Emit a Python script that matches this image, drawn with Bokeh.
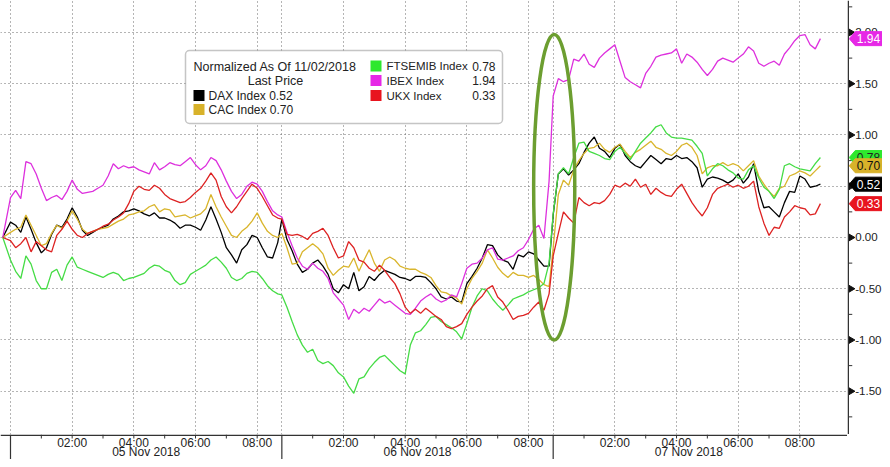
from math import pi
from bokeh.plotting import figure
from bokeh.layouts import row, column
from bokeh.models import (Range1d, FixedTicker, Label, BoxAnnotation, Grid, Span)
from bokeh.core.properties import value
from bokeh.embed import file_html
from bokeh.resources import INLINE

# ---------------- axis definition (trading-session minutes) ----------------
SESSION = 528          # one trading day on the axis, in minutes
STEP = 10              # sampling step of the series, minutes
START = -15            # normalisation point (previous close)
day_labels = ["05 Nov 2018", "06 Nov 2018", "07 Nov 2018"]
hour_marks = [2, 4, 6, 8]
hour_labels = ["02:00", "04:00", "06:00", "08:00"]
odd_hours = [1, 3, 5, 7]
y_major = [-1.5, -1.0, -0.5, 0.0, 0.5, 1.0, 1.5, 2.0]
y_minor = [-1.75, -1.25, -0.75, -0.25, 0.25, 0.75, 1.25, 1.75, 2.25]

# ---------------- series (normalised) ----------------
dax_d1 = [0.15, 0.12, 0.05, 0.20, 0.08, -0.05, -0.15, -0.10, 0.03, 0.12, 0.10, 0.18, 0.29, 0.20,
          0.07, 0.02, 0.05, 0.08, 0.10, 0.12, 0.18, 0.21, 0.25, 0.26, 0.28, 0.26, 0.23, 0.21,
          0.24, 0.19, 0.19, 0.17, 0.14, 0.09, 0.12, 0.12, 0.10, 0.07, 0.17, 0.30, 0.18, 0.05,
          -0.10, -0.17, -0.25, -0.12, -0.07, 0.02, 0.00, -0.10, -0.19, -0.20, -0.05]
dax_d2 = [0.18, -0.02, -0.13, -0.26, -0.34, -0.31, -0.25, -0.22, -0.28, -0.36, -0.50, -0.54,
          -0.46, -0.50, -0.34, -0.52, -0.48, -0.38, -0.42, -0.36, -0.32, -0.34, -0.36, -0.39,
          -0.40, -0.42, -0.38, -0.38, -0.39, -0.44, -0.50, -0.58, -0.60, -0.58, -0.62, -0.63,
          -0.45, -0.38, -0.30, -0.20, -0.07, -0.08, -0.17, -0.22, -0.24, -0.31, -0.17, -0.19,
          -0.14, -0.16, -0.22, -0.28, -0.28]
dax_d3 = [0.22, 0.62, 0.67, 0.61, 0.66, 0.72, 0.83, 0.92, 0.98, 0.87, 0.84, 0.78, 0.87, 0.91,
          0.80, 0.74, 0.70, 0.68, 0.74, 0.80, 0.76, 0.72, 0.77, 0.76, 0.80, 0.77, 0.78, 0.74,
          0.68, 0.49, 0.57, 0.59, 0.58, 0.56, 0.53, 0.56, 0.62, 0.53, 0.59, 0.72, 0.45, 0.29,
          0.30, 0.25, 0.20, 0.34, 0.45, 0.44, 0.60, 0.57, 0.49, 0.50, 0.52]

cac_d1 = [0.05, 0.08, 0.10, 0.22, 0.12, 0.02, -0.08, -0.06, 0.04, 0.12, 0.09, 0.16, 0.26, 0.18,
          0.08, 0.04, 0.06, 0.08, 0.09, 0.10, 0.13, 0.16, 0.18, 0.22, 0.23, 0.25, 0.26, 0.30,
          0.32, 0.25, 0.28, 0.27, 0.20, 0.21, 0.22, 0.19, 0.21, 0.23, 0.28, 0.42, 0.30, 0.20,
          0.11, 0.02, 0.00, 0.06, 0.10, 0.16, 0.24, 0.14, 0.06, 0.02, 0.00]
cac_d2 = [0.04, -0.10, -0.26, -0.25, -0.14, -0.10, -0.06, -0.10, -0.16, -0.30, -0.37, -0.32,
          -0.28, -0.29, -0.20, -0.33, -0.22, -0.12, -0.25, -0.33, -0.22, -0.19, -0.22, -0.28,
          -0.30, -0.31, -0.31, -0.34, -0.36, -0.39, -0.47, -0.53, -0.54, -0.57, -0.59, -0.65,
          -0.50, -0.40, -0.33, -0.25, -0.12, -0.20, -0.29, -0.35, -0.39, -0.34, -0.37, -0.37,
          -0.39, -0.37, -0.41, -0.46, -0.48]
cac_d3 = [-0.10, 0.42, 0.56, 0.51, 0.66, 0.75, 0.82, 0.87, 0.88, 0.92, 0.86, 0.83, 0.88, 0.91,
          0.84, 0.78, 0.83, 0.86, 0.90, 0.94, 0.88, 0.86, 0.82, 0.80, 0.84, 0.90, 0.92, 0.88,
          0.80, 0.62, 0.68, 0.70, 0.70, 0.73, 0.70, 0.72, 0.70, 0.65, 0.70, 0.75, 0.60, 0.52,
          0.45, 0.40, 0.48, 0.50, 0.60, 0.62, 0.65, 0.63, 0.60, 0.65, 0.70]

ftse_d1 = [-0.22, -0.33, -0.40, -0.18, -0.26, -0.42, -0.50, -0.50, -0.34, -0.31, -0.42, -0.27,
           -0.19, -0.29, -0.31, -0.33, -0.35, -0.37, -0.39, -0.36, -0.34, -0.36, -0.42, -0.40,
           -0.39, -0.37, -0.35, -0.30, -0.27, -0.28, -0.32, -0.34, -0.42, -0.46, -0.44, -0.36,
           -0.33, -0.30, -0.27, -0.22, -0.19, -0.24, -0.30, -0.39, -0.42, -0.40, -0.35, -0.33,
           -0.34, -0.40, -0.47, -0.52, -0.55]
ftse_d2 = [-0.56, -0.68, -0.82, -0.95, -1.05, -1.12, -1.09, -1.20, -1.23, -1.21, -1.25, -1.32,
           -1.36, -1.45, -1.52, -1.38, -1.36, -1.28, -1.22, -1.17, -1.15, -1.20, -1.25, -1.30,
           -1.33, -1.05, -0.93, -0.91, -0.85, -0.78, -0.77, -0.82, -0.85, -0.88, -0.92, -0.99,
           -0.84, -0.68, -0.57, -0.50, -0.52, -0.60, -0.66, -0.71, -0.66, -0.60, -0.58, -0.56,
           -0.53, -0.51, -0.49, -0.45, -0.25]
ftse_d3 = [0.23, 0.62, 0.68, 0.62, 0.78, 0.92, 0.93, 0.84, 0.82, 0.80, 0.77, 0.76, 0.84, 0.88,
           0.82, 0.76, 0.84, 0.92, 0.97, 1.02, 1.08, 1.10, 1.02, 0.98, 0.97, 0.97, 0.96, 0.95,
           0.89, 0.82, 0.60, 0.67, 0.72, 0.70, 0.66, 0.63, 0.58, 0.57, 0.66, 0.70, 0.58, 0.49,
           0.45, 0.38, 0.47, 0.70, 0.72, 0.69, 0.67, 0.66, 0.65, 0.72, 0.78]

ibex_d1 = [0.39, 0.46, 0.38, 0.74, 0.72, 0.62, 0.48, 0.36, 0.39, 0.41, 0.37, 0.45, 0.56, 0.47,
           0.43, 0.44, 0.45, 0.48, 0.51, 0.60, 0.72, 0.67, 0.70, 0.68, 0.69, 0.66, 0.64, 0.62,
           0.73, 0.66, 0.69, 0.73, 0.71, 0.70, 0.74, 0.78, 0.71, 0.66, 0.70, 0.78, 0.75, 0.66,
           0.55, 0.45, 0.38, 0.42, 0.50, 0.54, 0.52, 0.45, 0.35, 0.26, 0.22]
ibex_d2 = [0.20, 0.05, -0.08, -0.20, -0.28, -0.31, -0.25, -0.30, -0.33, -0.40, -0.54, -0.60,
           -0.66, -0.80, -0.70, -0.74, -0.69, -0.72, -0.66, -0.60, -0.64, -0.62, -0.66, -0.70,
           -0.74, -0.75, -0.69, -0.62, -0.58, -0.55, -0.60, -0.63, -0.61, -0.56, -0.58, -0.45,
           -0.30, -0.26, -0.25, -0.20, -0.12, -0.10, -0.21, -0.22, -0.20, -0.18, -0.13, -0.10,
           -0.02, 0.08, 0.12, -0.01, 0.55]
ibex_d3 = [1.38, 1.55, 1.52, 1.54, 1.74, 1.72, 1.79, 1.69, 1.66, 1.75, 1.80, 1.84, 1.88, 1.72,
           1.56, 1.52, 1.49, 1.46, 1.60, 1.67, 1.76, 1.78, 1.79, 1.80, 1.84, 1.70, 1.79, 1.76,
           1.71, 1.64, 1.58, 1.64, 1.72, 1.75, 1.73, 1.71, 1.75, 1.79, 1.86, 1.82, 1.70, 1.67,
           1.70, 1.72, 1.68, 1.79, 1.85, 1.92, 1.97, 1.98, 1.88, 1.84, 1.94]

ukx_d1 = [-0.03, -0.10, -0.06, 0.00, -0.14, -0.04, -0.08, -0.12, -0.14, 0.02, 0.08, 0.16, 0.08,
          0.02, 0.00, 0.04, 0.06, 0.08, 0.11, 0.13, 0.17, 0.20, 0.24, 0.33, 0.45, 0.50, 0.47,
          0.46, 0.51, 0.48, 0.42, 0.38, 0.36, 0.34, 0.35, 0.39, 0.44, 0.48, 0.55, 0.63, 0.56,
          0.40, 0.30, 0.24, 0.30, 0.38, 0.45, 0.52, 0.48, 0.40, 0.31, 0.22, 0.19]
ukx_d2 = [0.18, 0.03, 0.02, 0.03, 0.01, -0.02, 0.04, 0.06, 0.09, 0.02, -0.10, -0.20, -0.18,
          -0.04, -0.10, -0.22, -0.24, -0.30, -0.33, -0.27, -0.32, -0.39, -0.45, -0.55, -0.68,
          -0.74, -0.70, -0.74, -0.69, -0.73, -0.77, -0.80, -0.87, -0.89, -0.87, -0.84, -0.75,
          -0.68, -0.62, -0.57, -0.50, -0.47, -0.58, -0.63, -0.71, -0.80, -0.77, -0.76, -0.74,
          -0.68, -0.63, -0.71, -0.55]
ukx_d3 = [-0.18, 0.04, 0.25, 0.19, 0.14, 0.39, 0.34, 0.31, 0.34, 0.33, 0.36, 0.42, 0.51, 0.49,
          0.53, 0.50, 0.57, 0.49, 0.52, 0.42, 0.48, 0.44, 0.41, 0.40, 0.47, 0.52, 0.43, 0.34,
          0.27, 0.21, 0.29, 0.42, 0.48, 0.50, 0.52, 0.49, 0.51, 0.48, 0.50, 0.55, 0.30, 0.14,
          0.02, 0.10, 0.09, 0.20, 0.25, 0.31, 0.29, 0.28, 0.22, 0.23, 0.33]

names = ["DAX Index", "CAC Index", "FTSEMIB Index", "IBEX Index", "UKX Index"]
last_values = [0.52, 0.70, 0.78, 1.94, 0.33]
line_colors = ["#000000", "#d9b52c", "#45dc45", "#dd30dd", "#dd2222"]
tag_colors = ["#000000", "#d8b22a", "#2ee82e", "#e628e6", "#e8141e"]
tag_text_colors = ["#ffffff", "#111111", "#222222", "#ffffff", "#ffffff"]

# annotation ellipse around the 7 Nov open (centre in axis minutes / value units)
ell_x, ell_y, ell_w, ell_h = 1058, 0.49, 80, 2.98

# ---------------- assemble x coordinates ----------------
per_day = len(dax_d1)
minutes = [START]
for d in range(3):
    minutes += [d * SESSION + STEP * i for i in range(per_day)]

series = [
    [0.0] + dax_d1 + dax_d2 + dax_d3,
    [0.0] + cac_d1 + cac_d2 + cac_d3,
    [0.0] + ftse_d1 + ftse_d2 + ftse_d3,
    [0.0] + ibex_d1 + ibex_d2 + ibex_d3,
    [0.0] + ukx_d1 + ukx_d2 + ukx_d3,
]

FONT = "Liberation Sans"
AXIS_COL = "#333333"
TEXT_COL = "#222222"
PLOT_W, PLOT_H, AXIS_W, AXIS_H = 847, 434, 35, 25


def bare(width, height, x_range, y_range):
    f = figure(width=width, height=height, output_backend="svg", toolbar_location=None,
               x_range=x_range, y_range=y_range, x_axis_type=None, y_axis_type=None,
               min_border_left=0, min_border_top=0, min_border_right=0, min_border_bottom=0)
    f.outline_line_color = None
    f.background_fill_color = "white"
    f.border_fill_color = "white"
    return f


xr = Range1d(-19.46, 1628.7)
yr = Range1d(-1.922, 2.312)
p = bare(PLOT_W, PLOT_H, xr, yr)

boundaries = [d * SESSION for d in range(3)]
hour_ticks = [d * SESSION + h * 60 for d in range(3) for h in hour_marks]
odd_ticks = [d * SESSION + h * 60 for d in range(3) for h in odd_hours]

for dim, ticks in ((0, sorted(boundaries + hour_ticks)), (1, y_major)):
    p.add_layout(Grid(dimension=dim, ticker=FixedTicker(ticks=ticks), grid_line_color="#6a6a6a",
                      grid_line_dash="1 3", grid_line_width=1))

# lines
for s, c in zip(series, line_colors):
    p.line(minutes, s, line_color=c, line_width=1.3)

# ellipse annotation
p.ellipse(x=[ell_x], y=[ell_y], width=[ell_w], height=[ell_h], fill_color=None,
          line_color="#6c9e30", line_width=3.5)

# legend box
p.add_layout(BoxAnnotation(left=185, right=502, top=50, bottom=123,
                           left_units="canvas", right_units="canvas",
                           top_units="canvas", bottom_units="canvas",
                           fill_color="white", fill_alpha=1.0, line_color="#404040",
                           line_width=1.5, border_radius=4))
p.add_layout(Label(x=193, y=66, x_units="canvas", y_units="canvas", text="Normalized As Of 11/02/2018",
                   text_font=FONT, text_font_size="12.5px", text_color=TEXT_COL, text_baseline="middle"))
p.add_layout(Label(x=275, y=80, x_units="canvas", y_units="canvas", text="Last Price",
                   text_font=FONT, text_font_size="12.5px", text_color=TEXT_COL, text_baseline="middle",
                   text_align="center"))
left_rows = [(0, 95), (1, 109)]
right_rows = [(2, 65.5), (3, 80), (4, 95)]
for k, yc in left_rows:
    p.add_layout(BoxAnnotation(left=193, right=204, top=yc - 5.5, bottom=yc + 5.5,
                               left_units="canvas", right_units="canvas",
                               top_units="canvas", bottom_units="canvas",
                               fill_color=tag_colors[k], fill_alpha=1.0, line_color=None))
    p.add_layout(Label(x=208, y=yc, x_units="canvas", y_units="canvas",
                       text=f"{names[k]} {last_values[k]:.2f}", text_font=FONT, text_font_size="12px",
                       text_color=TEXT_COL, text_baseline="middle"))
for k, yc in right_rows:
    p.add_layout(BoxAnnotation(left=370, right=381, top=yc - 5.5, bottom=yc + 5.5,
                               left_units="canvas", right_units="canvas",
                               top_units="canvas", bottom_units="canvas",
                               fill_color=tag_colors[k], fill_alpha=1.0, line_color=None))
    p.add_layout(Label(x=386, y=yc, x_units="canvas", y_units="canvas", text=names[k],
                       text_font=FONT, text_font_size="11.5px", text_color=TEXT_COL,
                       text_baseline="middle"))
    p.add_layout(Label(x=495, y=yc, x_units="canvas", y_units="canvas", text=f"{last_values[k]:.2f}",
                       text_font=FONT, text_font_size="12px", text_color=TEXT_COL, text_baseline="middle",
                       text_align="right"))

# ---------------- right-hand value axis panel with last-price tags ----------------
q = bare(AXIS_W, PLOT_H, Range1d(-0.75, 34.25), yr)
q.add_layout(Span(location=0, dimension="height", line_color=AXIS_COL, line_width=1.5))
q.segment(x0=[0] * len(y_minor), x1=[4] * len(y_minor), y0=y_minor, y1=y_minor,
          line_color=AXIS_COL, line_width=1)
q.scatter(x=[2.6] * len(y_major), y=y_major, marker="triangle", angle=-pi / 2, size=7,
          fill_color="#111111", line_color="#111111")
q.text(x=[7] * len(y_major), y=y_major, text=[f"{v:.2f}" for v in y_major],
       text_font=value(FONT), text_font_size=value("11.5px"), text_color=TEXT_COL,
       text_baseline="middle", text_align="left")

half = 7 / 102.5
order = [2, 3, 1, 0, 4]
for k in order:
    v = last_values[k]
    q.patch(x=[1, 7, 35, 35, 7], y=[v, v + half, v + half, v - half, v - half],
            fill_color=tag_colors[k], line_color=tag_colors[k])
    q.text(x=[8.5], y=[v], text=[f"{v:.2f}"], text_font=value(FONT), text_font_size=value("12px"),
           text_color=tag_text_colors[k], text_baseline="middle", text_align="left")

# ---------------- bottom time axis panel (shares the x scale) ----------------
r = bare(PLOT_W, AXIS_H, xr, Range1d(AXIS_H, 0))
r.add_layout(Span(location=0.75, dimension="width", line_color=AXIS_COL, line_width=1.5))
small_ticks = hour_ticks + odd_ticks
r.segment(x0=small_ticks, x1=small_ticks, y0=[0] * len(small_ticks), y1=[4] * len(small_ticks),
          line_color=AXIS_COL, line_width=1)
r.segment(x0=boundaries, x1=boundaries, y0=[0] * 3, y1=[AXIS_H] * 3, line_color=AXIS_COL, line_width=1.2)
r.text(x=hour_ticks, y=[8] * len(hour_ticks), text=[hour_labels[i % 4] for i in range(len(hour_ticks))],
       text_font=value(FONT), text_font_size=value("12px"), text_color=TEXT_COL,
       text_baseline="middle", text_align="center")
centers = [d * SESSION + SESSION // 2 for d in range(3)]
r.text(x=centers, y=[17.6] * 3, text=day_labels, text_font=value(FONT), text_font_size=value("12px"),
       text_color=TEXT_COL, text_baseline="middle", text_align="center")

layout = column(row(p, q), r)
open("out.html", "w").write(file_html(layout, INLINE))
